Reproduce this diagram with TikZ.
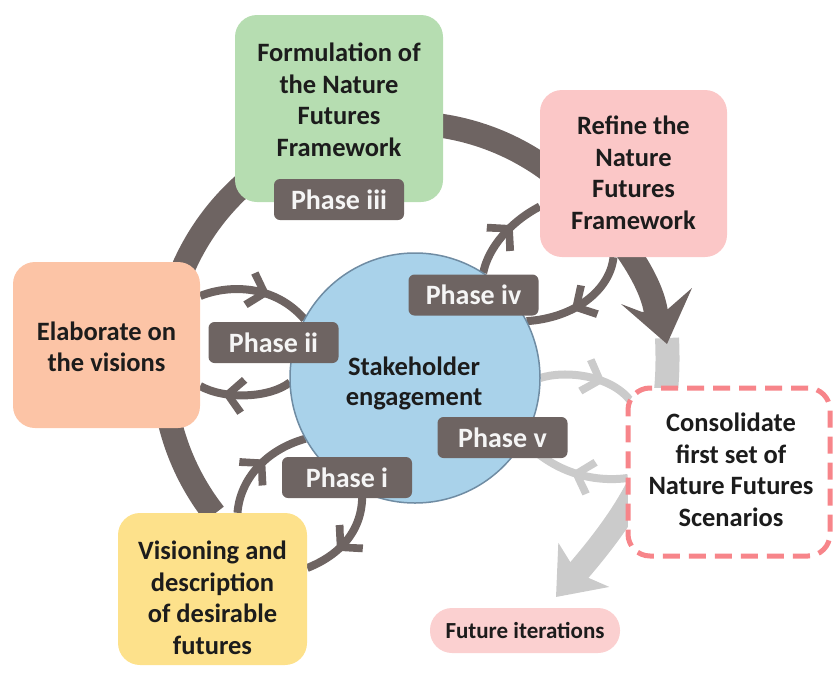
\documentclass[tikz,border=0pt]{standalone}
\usepackage{fontspec}
\setmainfont{Carlito}
\usetikzlibrary{arrows.meta,calc}
\definecolor{ringgrey}{HTML}{6E6462}
\definecolor{fadegrey}{HTML}{CBCBCB}
\definecolor{boxgreen}{HTML}{B6DDB1}
\definecolor{boxpink}{HTML}{FBC7C7}
\definecolor{boxpeach}{HTML}{FCC4A6}
\definecolor{boxyellow}{HTML}{FDE18B}
\definecolor{stakeblue}{HTML}{A9D2EA}
\definecolor{stakeedge}{HTML}{6F8CA3}
\definecolor{dashpink}{HTML}{F7858A}
\definecolor{pillpink}{HTML}{FBD0D0}
\definecolor{inktext}{HTML}{1C1C1C}
\begin{document}
\begin{tikzpicture}[x=1pt,y=-1pt,
  ring/.style={draw=ringgrey, line width=24pt},
  fade/.style={draw=fadegrey, fill=none, line width=24pt},
  loopline/.style={draw=#1, line width=8pt},
  loopline/.default=ringgrey,
  % thick chevron that marks the direction of a loop
  chevron/.pic={\fill[#1] (6pt,0pt) -- (-11pt,19pt) -- (-17pt,14pt) -- (-4pt,0pt)
         -- (-17pt,-14pt) -- (-11pt,-19pt) -- cycle;},
  along/.style={pos=#1, sloped, allow upside down},
  stagebox/.style={rounded corners=22pt, inner sep=0pt, draw=none},
  boxtext/.style={align=center, inner sep=0pt, text=inktext,
    font=\fontsize{26.5}{31.5}\selectfont\bfseries},
  phase/.style={fill=ringgrey, rounded corners=6pt, text=white!96!black,
    font=\fontsize{28}{30}\selectfont\bfseries,
    minimum width=130pt, minimum height=41pt, inner sep=0pt}
]
\useasboundingbox (0,0) rectangle (833,675);

% nodes that the connectors refer to
\node[stagebox, minimum width=187pt, minimum height=166pt] (orange) at (106.5,345) {};
\node[stagebox, minimum width=187pt, minimum height=167pt] (pink) at (633.5,173.5) {};
\node[stagebox, minimum width=189pt, minimum height=152pt] (yellow) at (212.5,589) {};
\node[stagebox, minimum width=202pt, minimum height=168pt] (cons) at (729,472) {};
\node[circle, inner sep=0pt, minimum size=250pt] (stake) at (415,378) {};

% faded continuation of the cycle towards future iterations
\draw[fade, -{Stealth[length=42pt,width=66pt,inset=10pt]}]
  (667,338) .. controls (672,440) and (640,500) .. (556,597);

% faded phase v loop
\draw[loopline=fadegrey] (stake.0) .. controls (565,370) and (610,375) .. ($(cons.west)+(2,-72)$)
  pic[along=0.62] {chevron=fadegrey};
\draw[loopline=fadegrey] ($(cons.west)+(0,6)$) .. controls (598,482) and (558,476) .. (stake.-30)
  pic[along=0.5] {chevron=fadegrey};

% main cycle
\draw[ring] (405,365) ++(142:242) arc[start angle=142,end angle=315,radius=242]
  .. controls (616,228) and (652,280) .. (656,313);
\fill[ringgrey] (667,344) -- (692,288) -- (668,309) -- (642,312) -- (621,304) -- cycle;

% phase loops between the stages and the stakeholders
\draw[loopline] ($(orange.east)+(0,-49)$) .. controls (230,284) and (275,285) .. (stake.152)
  pic[along=0.6] {chevron=ringgrey};
\draw[loopline] (stake.182) .. controls (270,398) and (225,400) .. ($(orange.east)+(0,41)$)
  pic[along=0.68] {chevron=ringgrey};
\draw[loopline] (stake.57) .. controls (488,248) and (510,222) .. ($(pink.west)+(0,33)$)
  pic[along=0.6] {chevron=ringgrey};
\draw[loopline] ($(pink.south)+(-20,0)$) .. controls (610,290) and (575,318) .. (stake.27)
  pic[along=0.6] {chevron=ringgrey};
\draw[loopline] ($(yellow.north)+(25,0)$) .. controls (240,480) and (265,450) .. (stake.209)
  pic[along=0.55] {chevron=ringgrey};
\draw[loopline] (stake.245) .. controls (364,530) and (340,555) .. ($(yellow.east)+(0,-21)$)
  pic[along=0.6] {chevron=ringgrey};

% stage boxes
\node[stagebox, fill=boxgreen, minimum width=208pt, minimum height=187pt] (green) at (339,108.5) {};
\node[stagebox, fill=boxpink, minimum width=187pt, minimum height=167pt] at (pink) {};
\node[stagebox, fill=boxpeach, minimum width=187pt, minimum height=166pt] at (orange) {};
\node[stagebox, fill=boxyellow, minimum width=189pt, minimum height=152pt] at (yellow) {};
\node[stagebox, fill=white, draw=dashpink, line width=5pt, dash pattern=on 17pt off 9pt,
  minimum width=202pt, minimum height=168pt] at (cons) {};
\node[rounded corners=22pt, fill=pillpink, minimum width=190pt, minimum height=45pt, inner sep=0pt] (pill) at (525,630.5) {};
\node[circle, fill=stakeblue, draw=stakeedge, line width=1.5pt, minimum size=250pt, inner sep=0pt] at (stake) {};

% texts
\node[boxtext] (greentext) at (339,100) {Formulation of\\the Nature\\Futures\\Framework};
\node[boxtext] (pinktext) at (633.5,173) {Refine the\\Nature\\Futures\\Framework};
\node[boxtext] (orangetext) at (106.5,347) {Elaborate on\\the visions};
\node[boxtext] (yellowtext) at (212.5,598) {Visioning and\\description\\of desirable\\futures};
\node[boxtext] (constext) at (731,470) {Consolidate\\first set of\\Nature Futures\\Scenarios};
\node[boxtext, font=\fontsize{26.5}{30}\selectfont\bfseries] (staketext) at (414,383) {Stakeholder\\engagement};
\node[boxtext, font=\fontsize{23}{26}\selectfont\bfseries] (pilltext) at (525,630) {Future iterations};

% phase labels
\node[phase] (p3) at (339,199.5) {Phase iii};
\node[phase] (p4) at (473.5,295) {Phase iv};
\node[phase] (p2) at (273.5,342.5) {Phase ii};
\node[phase] (p5) at (502.5,437.5) {Phase v};
\node[phase] (p1) at (347,477.5) {Phase i};
\end{tikzpicture}
\end{document}
